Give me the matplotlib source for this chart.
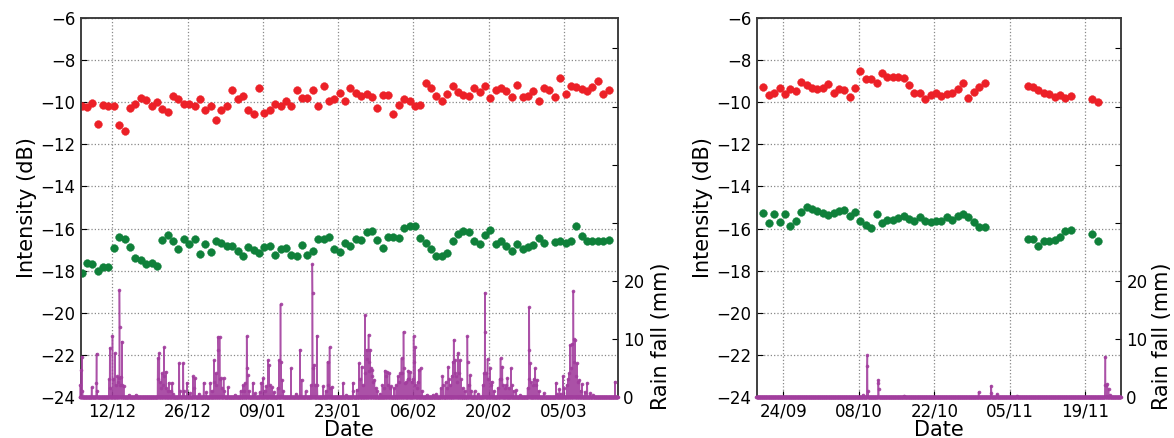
import datetime
import numpy as np
import matplotlib
matplotlib.use('Agg')
import matplotlib.pyplot as plt
import matplotlib.dates as mdates
from matplotlib.ticker import FuncFormatter

# ---- data: left panel (winter 2011/12), daily points from 06/12 ----
left_start = datetime.datetime(2011, 12, 6)
left_red = [-10.19, -10.22, -10.03, -11.02, -10.13, -10.16, -10.19, -11.09, -11.34, -10.26,
            -10.06, -9.79, -9.87, -10.16, -9.98, -10.32, -10.45, -9.71, -9.84, -10.06,
            -10.1, -10.16, -9.84, -10.35, -10.19, -10.83, -10.35, -10.19, -9.39, -9.84,
            -9.7, -10.35, -10.56, -9.31, -10.51, -10.35, -10.06, -10.16, -9.95, -10.16,
            -9.42, -9.81, -9.81, -9.42, -10.19, -9.23, -9.92, -9.82, -9.55, -9.92,
            -9.31, -9.55, -9.71, -9.6, -9.76, -10.27, -9.66, -9.66, -10.56, -10.13,
            -9.86, -9.94, -10.16, -10.13, -9.1, -9.33, -9.7, -9.92, -9.6, -9.23,
            -9.49, -9.65, -9.71, -9.31, -9.49, -9.23, -9.81, -9.39, -9.3, -9.47,
            -9.74, -9.18, -9.74, -9.7, -9.47, -9.92, -9.31, -9.39, -9.76, -8.83,
            -9.58, -9.2, -9.26, -9.36, -9.44, -9.28, -8.96, -9.58, -9.42]
left_green = [-18.13, -17.65, -17.68, -18.03, -17.81, -17.84, -16.92, -16.41, -16.49, -16.89,
              -17.4, -17.52, -17.68, -17.65, -17.79, -16.54, -16.29, -16.6, -16.98, -16.49,
              -16.73, -16.51, -17.21, -16.73, -17.14, -16.6, -16.7, -16.83, -16.83, -17.05,
              -17.3, -16.89, -17.02, -17.17, -16.86, -16.83, -17.27, -16.98, -16.95, -17.24,
              -17.33, -16.79, -17.27, -17.05, -16.51, -16.48, -16.38, -16.98, -17.11, -16.7,
              -16.81, -16.49, -16.54, -16.17, -16.13, -16.54, -16.92, -16.41, -16.41, -16.44,
              -15.97, -15.9, -15.87, -16.44, -16.7, -16.98, -17.33, -17.33, -17.17, -16.6,
              -16.25, -16.1, -16.17, -16.6, -16.76, -16.32, -16.06, -16.76, -16.57, -16.83,
              -17.05, -16.76, -16.97, -16.89, -16.79, -16.44, -16.7, np.nan, -16.63, -16.6,
              -16.7, -16.6, -15.9, -16.35, -16.6, -16.6, -16.6, -16.6, -16.54]

# rain events: days since 06/12 00:00, mm
left_rain_t = [0.09, 0.25, 0.36, 0.46, 2.17, 3.03, 3.08, 3.17, 5.46, 5.53, 5.67, 6.05, 6.14, 6.5,
               6.61, 6.95, 7.03, 7.23, 7.34, 7.38, 7.44, 7.55, 7.79, 7.86, 8.11, 9.08, 10.37,
               14.45, 14.53, 14.77, 14.84, 15.05, 15.22, 15.37, 15.61, 15.68, 16.0, 16.1, 16.3,
               16.51, 16.83, 17.16, 17.35, 18.45, 18.6, 19.22, 19.33, 19.87, 20.37, 21.04, 21.2,
               21.36, 22.14, 22.98, 23.5, 24.26, 24.54, 24.91, 25.01, 25.23, 25.38, 25.69, 25.73,
               25.95, 26.0, 26.21, 26.42, 26.72, 26.84, 27.49, 28.78, 29.86, 30.28, 30.48, 30.72,
               30.98, 31.03, 31.17, 31.42, 32.14, 32.57, 33.4, 33.76, 34.08, 34.34, 34.65, 34.99,
               35.11, 35.28, 35.76, 36.11, 36.74, 37.05, 37.31, 37.36, 37.57, 37.78, 39.25, 40.18,
               40.93, 41.19, 41.96, 42.99, 43.19, 43.23, 43.31, 43.52, 43.73, 44.03, 44.14, 45.26,
               45.71, 46.03, 46.12, 46.43, 46.54, 46.87, 48.94, 49.56, 50.75, 50.81, 51.44, 51.91,
               52.06, 52.37, 52.59, 53.01, 53.1, 53.34, 53.42, 53.66, 53.73, 53.84, 53.97, 54.1,
               54.26, 54.37, 54.57, 54.76, 54.98, 55.3, 55.82, 56.24, 56.45, 56.7, 56.86, 57.08,
               57.28, 57.53, 57.7, 57.85, 58.43, 58.84, 59.15, 59.36, 59.57, 59.79, 59.94, 60.18,
               60.22, 60.44, 60.72, 60.93, 61.09, 61.24, 61.47, 61.66, 61.87, 62.05, 62.1, 62.25,
               62.39, 62.6, 62.8, 63.02, 63.35, 63.64, 64.47, 65.61, 66.25, 67.08, 67.42, 67.6,
               68.02, 68.23, 68.52, 68.64, 68.85, 69.16, 69.32, 69.48, 69.52, 69.69, 69.8, 69.95,
               70.1, 70.26, 70.42, 70.65, 70.83, 71.15, 71.56, 72.06, 72.1, 72.29, 72.58, 72.81,
               73.36, 74.06, 74.9, 75.11, 75.3, 75.34, 75.52, 75.81, 75.94, 76.26, 76.46, 76.59,
               76.98, 77.71, 78.03, 78.2, 78.34, 78.53, 78.76, 79.07, 79.28, 79.5, 79.8, 80.14,
               80.32, 80.63, 81.11, 81.88, 83.24, 83.45, 83.56, 83.6, 83.7, 83.86, 84.18, 84.39,
               84.67, 84.8, 84.99, 85.32, 86.27, 88.54, 88.66, 89.18, 89.39, 89.83, 90.02, 90.54,
               90.75, 90.96, 91.12, 91.27, 91.58, 91.77, 91.81, 91.95, 92.09, 92.26, 92.42, 92.62,
               92.87, 93.14, 93.39, 93.87, 94.35, 94.92, 95.45, 99.52]
left_rain_mm = [2.0, 4.6, 6.9, 1.0, 1.6, 2.4, 7.4, 1.0, 3.0, 8.4, 1.5, 10.5, 3.0, 7.5,
                2.0, 3.5, 2.5, 3.2, 18.4, 12.0, 2.0, 3.4, 9.5, 2.0, 1.8, 0.3, 0.3,
                6.6, 3.0, 7.5, 2.5, 1.5, 4.0, 2.0, 8.5, 3.5, 4.3, 1.5, 1.0,
                2.4, 1.0, 2.4, 0.5, 5.8, 1.0, 5.8, 1.0, 2.4, 0.6, 3.5, 1.5,
                3.2, 0.5, 2.4, 0.8, 2.4, 1.0, 6.3, 2.5, 4.0, 2.0, 10.3, 8.0,
                10.3, 3.0, 3.2, 1.5, 3.2, 1.0, 1.6, 0.3, 1.0, 2.0, 1.0, 2.3,
                10.4, 5.0, 3.7, 1.0, 2.4, 0.6, 0.8, 2.4, 3.2, 1.0, 1.8, 6.3,
                5.5, 2.0, 1.6, 0.8, 1.5, 6.3, 15.9, 6.0, 2.9, 1.0, 4.9, 0.5,
                8.1, 2.9, 0.9, 2.0, 22.8, 17.9, 5.0, 5.5, 2.0, 10.5, 2.0, 1.8,
                1.0, 6.0, 2.0, 8.5, 1.5, 1.7, 2.4, 0.3, 2.4, 1.0, 1.2, 5.8,
                3.0, 5.2, 2.0, 14.0, 4.0, 8.1, 6.5, 10.7, 6.0, 4.5, 8.1, 5.0,
                3.5, 4.6, 2.5, 2.9, 1.5, 1.0, 0.5, 2.0, 1.5, 4.5, 3.5, 4.3,
                2.0, 4.0, 1.5, 1.8, 1.5, 2.0, 3.5, 2.5, 4.0, 6.6, 4.0, 11.2,
                5.0, 2.3, 2.5, 3.0, 4.5, 3.0, 4.3, 2.5, 3.0, 10.4, 6.0, 8.5,
                2.0, 1.5, 2.5, 4.6, 4.9, 1.0, 0.3, 0.3, 0.5, 1.5, 3.5, 2.0,
                2.5, 1.5, 5.2, 3.0, 2.0, 3.6, 6.0, 14.8, 9.8, 4.0, 6.3, 3.5,
                2.5, 7.5, 4.0, 6.3, 3.0, 1.5, 1.0, 10.4, 6.0, 2.0, 3.7, 1.0,
                0.9, 0.5, 2.0, 4.0, 17.9, 11.2, 4.0, 6.5, 3.0, 4.9, 2.0, 2.6,
                1.0, 1.5, 3.0, 6.6, 3.0, 5.2, 2.0, 1.5, 2.0, 3.2, 1.5, 4.9,
                2.0, 1.0, 1.1, 0.3, 1.5, 3.0, 15.4, 8.1, 5.8, 2.5, 2.0, 3.0,
                4.9, 2.0, 2.9, 1.0, 0.6, 2.4, 0.5, 1.3, 0.5, 3.5, 1.5, 2.0,
                3.0, 4.0, 8.9, 5.0, 9.1, 18.2, 10.0, 6.0, 9.8, 3.5, 5.8, 2.5,
                2.9, 1.0, 2.2, 0.8, 2.4, 0.6, 0.3, 2.6]
left_xlim = (0.13, 100.0)
left_ticks = ['2011-12-12', '2011-12-26', '2012-01-09', '2012-01-23',
              '2012-02-06', '2012-02-20', '2012-03-05']

# ---- data: right panel (autumn 2011), daily points from 20/09 ----
right_start = datetime.datetime(2011, 9, 19)
right_red = [-9.28, -9.63, -9.54, -9.32, -9.6, -9.35, -9.44, -9.03, -9.16, -9.32,
             -9.38, -9.32, -9.13, -9.54, -9.38, -9.41, -9.73, -9.32, -8.52, -8.87,
             -8.9, -9.09, -8.62, -8.78, -8.78, -8.78, -8.84, -9.19, -9.57, -9.57,
             -9.82, -9.63, -9.57, -9.7, -9.6, -9.57, -9.38, -9.06, -9.77, -9.51,
             -9.28, -9.06, np.nan, np.nan, np.nan, np.nan, np.nan, np.nan, np.nan, -9.22,
             -9.28, -9.41, -9.54, -9.6, -9.76, -9.66, -9.79, -9.7, np.nan, np.nan,
             np.nan, -9.85, -9.98]
right_green = [-15.27, -15.72, -15.31, -15.69, -15.31, -15.88, -15.64, -15.21, -14.99, -15.05,
               -15.18, -15.27, -15.37, -15.24, -15.18, -15.12, -15.4, -15.21, -15.62, -15.84,
               -15.97, -15.31, -15.72, -15.59, -15.59, -15.5, -15.4, -15.53, -15.65, -15.43,
               -15.65, -15.69, -15.62, -15.65, -15.43, -15.59, -15.4, -15.31, -15.43, -15.69,
               -15.94, -15.94, np.nan, np.nan, np.nan, np.nan, np.nan, np.nan, np.nan, -16.5,
               -16.5, -16.82, -16.58, -16.58, -16.54, -16.38, -16.11, -16.06, np.nan, np.nan,
               np.nan, -16.27, -16.58]
right_rain_t = [19.74, 20.56, 20.6, 20.65, 22.59, 22.63, 22.68, 27.4, 41.2, 43.55, 43.6,
                44.6, 48.3, 64.68, 64.72, 64.9, 65.1, 65.3, 65.6]
right_rain_mm = [0.3, 5.3, 7.1, 0.9, 2.3, 2.9, 1.4, 0.2, 0.8, 1.9, 0.7,
                 0.45, 0.2, 2.0, 6.9, 2.0, 2.2, 1.3, 0.3]
right_xlim = (0.06, 67.55)
right_ticks = ['2011-09-24', '2011-10-08', '2011-10-22', '2011-11-05', '2011-11-19']

RED = '#ec2027'
GREEN = '#0f803a'
PURPLE = '#a23e9e'


def hourly_rain(t_list, mm_list, t_end):
    n = int(t_end * 24) + 1
    vals = np.zeros(n)
    for t, v in zip(t_list, mm_list):
        vals[int(round(t * 24))] = v
    return np.arange(n) / 24.0, vals


def panel(rect, start, red, green, rain_t, rain_mm, xlim, ticks, day_offset, rlab_x):
    ax = fig.add_axes(rect)
    days = start + np.array([datetime.timedelta(days=i + day_offset) for i in range(len(red))])
    ax.plot(days, red, 'o', color=RED, ms=5.6, mec=RED, mew=0.3, zorder=3)
    ax.plot(days, green, 'o', color=GREEN, ms=5.6, mec=GREEN, mew=0.3, zorder=3)
    ax.set_ylim(-24, -6)
    ax.set_yticks(np.arange(-24, -5, 2))
    ax.set_xlim(start + datetime.timedelta(days=xlim[0]), start + datetime.timedelta(days=xlim[1]))
    ax.set_xticks([datetime.datetime.strptime(d, '%Y-%m-%d') for d in ticks])
    ax.xaxis.set_major_formatter(mdates.DateFormatter('%d/%m'))
    ax.grid(True, linestyle=':', color='#888888', lw=0.9)
    ax.set_axisbelow(True)
    ax.set_ylabel('Intensity (dB)', fontsize=15, labelpad=2)
    ax.set_xlabel('Date', fontsize=15, labelpad=0)
    ax.tick_params(direction='in', labelsize=12, length=4, pad=4)

    ax2 = ax.twinx()
    th, rv = hourly_rain(rain_t, rain_mm, xlim[1])
    rdates = start + np.array([datetime.timedelta(days=float(t)) for t in th])
    ax2.plot(rdates, rv, '-o', color=PURPLE, lw=1.1, ms=2.6, mew=0, alpha=0.9,
             clip_on=False, zorder=3)
    ax2.set_ylim(0, 65.2)
    ax2.set_yticks(np.arange(0, 61, 10))
    ax2.yaxis.set_major_formatter(FuncFormatter(lambda v, p: '%d' % v if v <= 20 else ''))
    ax2.set_ylabel('Rain fall (mm)', fontsize=15)
    ax2.yaxis.set_label_coords(rlab_x, 0.16)
    ax2.tick_params(direction='in', labelsize=12, length=4, pad=4)
    ax2.set_xlim(ax.get_xlim())
    for a in (ax, ax2):
        for s in a.spines.values():
            s.set_color('#3a3a3a')
            s.set_linewidth(1.1)
            s.set_zorder(2)
    return ax, ax2


fig = plt.figure(figsize=(11.74, 4.38), dpi=100)
W, H = 1174.0, 438.0
panel([80.7 / W, 1 - 396.7 / H, 537.0 / W, 378.4 / H], left_start, left_red, left_green,
      left_rain_t, left_rain_mm, left_xlim, left_ticks, 0.3, 1.062)
panel([756.7 / W, 1 - 396.7 / H, 364.0 / W, 378.4 / H], right_start, right_red, right_green,
      right_rain_t, right_rain_mm, right_xlim, right_ticks, 1.3, 1.085)

fig.savefig('out.png', dpi=100)
